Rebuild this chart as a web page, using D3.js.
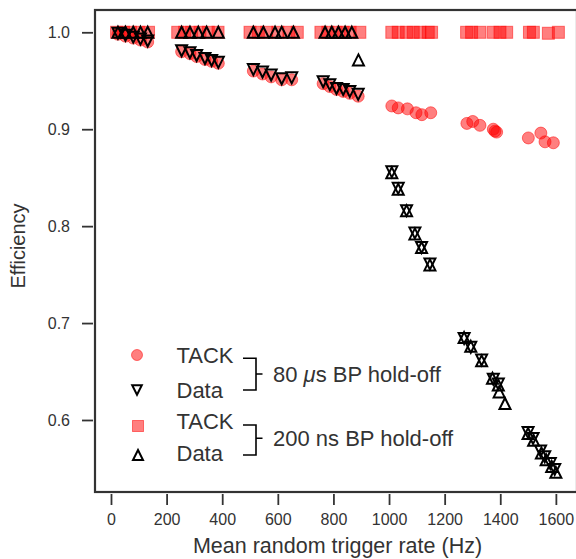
<!DOCTYPE html>
<html>
<head>
<meta charset="utf-8">
<script src="https://cdn.jsdelivr.net/npm/d3@7"></script>
<style>
  body { margin: 0; background: #fff; }
  text { font-family: "Liberation Sans", Arial, sans-serif; }
</style>
</head>
<body>
<svg id="chart" width="576" height="559"></svg>
<script>
// ---- data ----
// 80 us BP hold-off, TACK (circles)
const tack80Rate = [25, 52, 80, 106, 132, 254, 284, 308, 338, 362, 386, 512, 545, 576, 614, 650,
  763, 787, 811, 835, 859, 889, 1010, 1033, 1066, 1097, 1118, 1150, 1280, 1301, 1327, 1375, 1381, 1387,
  1501, 1546, 1561, 1591];
const tack80Eff = [0.998, 0.996, 0.994, 0.992, 0.990, 0.980, 0.978, 0.975, 0.972, 0.970, 0.968,
  0.960, 0.957, 0.954, 0.951, 0.951, 0.947, 0.944, 0.941, 0.939, 0.937, 0.934,
  0.924, 0.922, 0.921, 0.917, 0.915, 0.917, 0.906, 0.908, 0.904, 0.900, 0.898, 0.897,
  0.891, 0.896, 0.887, 0.886];
// 80 us BP hold-off, Data (down triangles)
const data80Rate = [25, 52, 80, 106, 132, 254, 284, 308, 338, 362, 386, 512, 545, 576, 614, 650,
  763, 787, 811, 835, 859, 889, 1010, 1033, 1063, 1093, 1117, 1147, 1270, 1294, 1333, 1375, 1393,
  1500, 1518, 1545, 1560, 1580, 1596];
const data80Eff = [0.999, 0.997, 0.995, 0.993, 0.991, 0.981, 0.979, 0.976, 0.973, 0.971, 0.969,
  0.9615, 0.959, 0.956, 0.952, 0.953, 0.949, 0.946, 0.942, 0.941, 0.939, 0.936,
  0.856, 0.839, 0.816, 0.793, 0.778, 0.761, 0.684, 0.675, 0.662, 0.642, 0.637,
  0.587, 0.581, 0.568, 0.562, 0.555, 0.549];
// 200 ns BP hold-off, TACK (squares)
const tack200Rate = [20, 45, 70, 100, 135, 240, 265, 290, 320, 350, 385, 500, 530, 560, 600, 640, 670,
  755, 780, 810, 835, 860, 895, 1010, 1033, 1063, 1087, 1111, 1141, 1153,
  1279, 1297, 1327, 1375, 1399, 1423, 1505, 1519, 1573, 1609];
const tack200Eff = [1, 1, 1, 1, 1, 1, 1, 1, 1, 1, 1, 1, 1, 1, 1, 1, 1, 1, 1, 1, 1, 1, 1,
  1, 1, 1, 1, 1, 1, 1, 1, 1, 1, 1, 1, 1, 1, 1, 0.999, 1];
// 200 ns BP hold-off, Data (up triangles)
const data200Rate = [25, 52, 80, 106, 132, 254, 284, 314, 344, 386, 512, 548, 590, 614, 656,
  770, 794, 818, 842, 866, 890, 1010, 1033, 1063, 1093, 1117, 1147,
  1270, 1294, 1333, 1372, 1393, 1396, 1417, 1500, 1520, 1548, 1565, 1585, 1600];
const data200Eff = [1, 1, 1, 1, 1, 1, 1, 1, 1, 1, 1, 1, 1, 1, 1, 1, 1, 1, 1, 1, 0.9715,
  0.855, 0.838, 0.816, 0.792, 0.778, 0.760, 0.685, 0.676, 0.661, 0.643, 0.636, 0.629, 0.617,
  0.586, 0.579, 0.566, 0.559, 0.552, 0.546];

const xTicks = [0, 200, 400, 600, 800, 1000, 1200, 1400, 1600];
const yTicks = [0.6, 0.7, 0.8, 0.9, 1.0];
const legendLabels = ["TACK", "Data", "TACK", "Data"];
const groupLabels = ["80 ", "μ", "s BP hold-off", "200 ns BP hold-off"];
const xTitle = "Mean random trigger rate (Hz)";
const yTitle = "Efficiency";

// ---- drawing ----
const svg = d3.select("#chart");
const ink = "#333333";
const L = 95, R = 577, T = 10, B = 492;
const x = d3.scaleLinear().domain([-57.5, 1676]).range([L, R]);
const y = d3.scaleLinear().domain([0.5257, 1.023]).range([B, T]);

const zip = (a, b) => a.map((v, i) => [v, b[i]]);

function tri(s, up) {
  return up ? `M0,${-s}L${s},${s}L${-s},${s}Z` : `M0,${s}L${s},${-s}L${-s},${-s}Z`;
}

const g = svg.append("g");
const red = "rgba(255,0,0,0.5)";

// circles
g.selectAll("circle.t80").data(zip(tack80Rate, tack80Eff)).join("circle")
  .attr("cx", d => x(d[0])).attr("cy", d => y(d[1])).attr("r", 6)
  .attr("fill", red).attr("stroke", red).attr("stroke-width", 1);
// squares
const sq = 12;
g.selectAll("rect.t200").data(zip(tack200Rate, tack200Eff)).join("rect")
  .attr("x", d => x(d[0]) - sq / 2).attr("y", d => y(d[1]) - sq / 2)
  .attr("width", sq).attr("height", sq)
  .attr("fill", red).attr("stroke", red).attr("stroke-width", 1);
// down triangles
g.selectAll("path.d80").data(zip(data80Rate, data80Eff)).join("path")
  .attr("transform", d => `translate(${x(d[0])},${y(d[1])})`)
  .attr("d", tri(5.5, false)).attr("fill", "none").attr("stroke", "#000").attr("stroke-width", 2);
// up triangles
g.selectAll("path.d200").data(zip(data200Rate, data200Eff)).join("path")
  .attr("transform", d => `translate(${x(d[0])},${y(d[1])})`)
  .attr("d", tri(5.5, true)).attr("fill", "none").attr("stroke", "#000").attr("stroke-width", 2);

// frame
svg.append("rect").attr("x", L).attr("y", T).attr("width", R - L).attr("height", B - T)
  .attr("fill", "none").attr("stroke", ink).attr("stroke-width", 2.2);

// axes
const xa = svg.append("g").attr("transform", `translate(0,${B + 2})`)
  .call(d3.axisBottom(x).tickValues(xTicks).tickSize(11).tickPadding(9).tickFormat(d3.format("d")));
const ya = svg.append("g").attr("transform", `translate(${L - 2},0)`)
  .call(d3.axisLeft(y).tickValues(yTicks).tickSize(11).tickPadding(12).tickFormat(d3.format(".1f")));
[xa, ya].forEach(a => {
  a.select(".domain").remove();
  a.selectAll("line").attr("stroke", ink).attr("stroke-width", 1.8);
  a.selectAll("text").attr("fill", ink).style("font-size", "16px")
    .style("font-family", '"Liberation Sans", Arial, sans-serif');
});

svg.append("text").attr("x", 337.5).attr("y", 553).attr("text-anchor", "middle")
  .attr("fill", ink).style("font-size", "21.5px").text(xTitle);
svg.append("text").attr("transform", "translate(25,246) rotate(-90)").attr("text-anchor", "middle")
  .attr("fill", ink).style("font-size", "20px").text(yTitle);

// legend
const lg = svg.append("g");
lg.append("circle").attr("cx", 137).attr("cy", 355).attr("r", 5.5)
  .attr("fill", red).attr("stroke", red);
lg.append("path").attr("transform", "translate(137,390)").attr("d", tri(4.8, false))
  .attr("fill", "none").attr("stroke", "#000").attr("stroke-width", 2);
lg.append("rect").attr("x", 138 - 5.5).attr("y", 426 - 5.5).attr("width", 11).attr("height", 11)
  .attr("fill", red).attr("stroke", red);
lg.append("path").attr("transform", "translate(138,455)").attr("d", tri(5, true))
  .attr("fill", "none").attr("stroke", "#000").attr("stroke-width", 2);

const legY = [363, 398, 428.5, 461];
legendLabels.forEach((t, i) => {
  lg.append("text").attr("x", 176.5).attr("y", legY[i]).attr("fill", ink)
    .style("font-size", "22px").text(t);
});
const br = [[358.3, 390, 374], [425, 455, 438.3]];
br.forEach(b => {
  lg.append("path").attr("d", `M243,${b[0]}H256V${b[1]}H243M256,${b[2]}H262.5`)
    .attr("fill", "none").attr("stroke", "#000").attr("stroke-width", 1.6);
});
const t1 = lg.append("text").attr("x", 273).attr("y", 382).attr("fill", ink).style("font-size", "22px");
t1.append("tspan").text(groupLabels[0]);
t1.append("tspan").style("font-style", "italic").text(groupLabels[1]);
t1.append("tspan").text(groupLabels[2]);
lg.append("text").attr("x", 273).attr("y", 445.5).attr("fill", ink).style("font-size", "22px").text(groupLabels[3]);
</script>
</body>
</html>
